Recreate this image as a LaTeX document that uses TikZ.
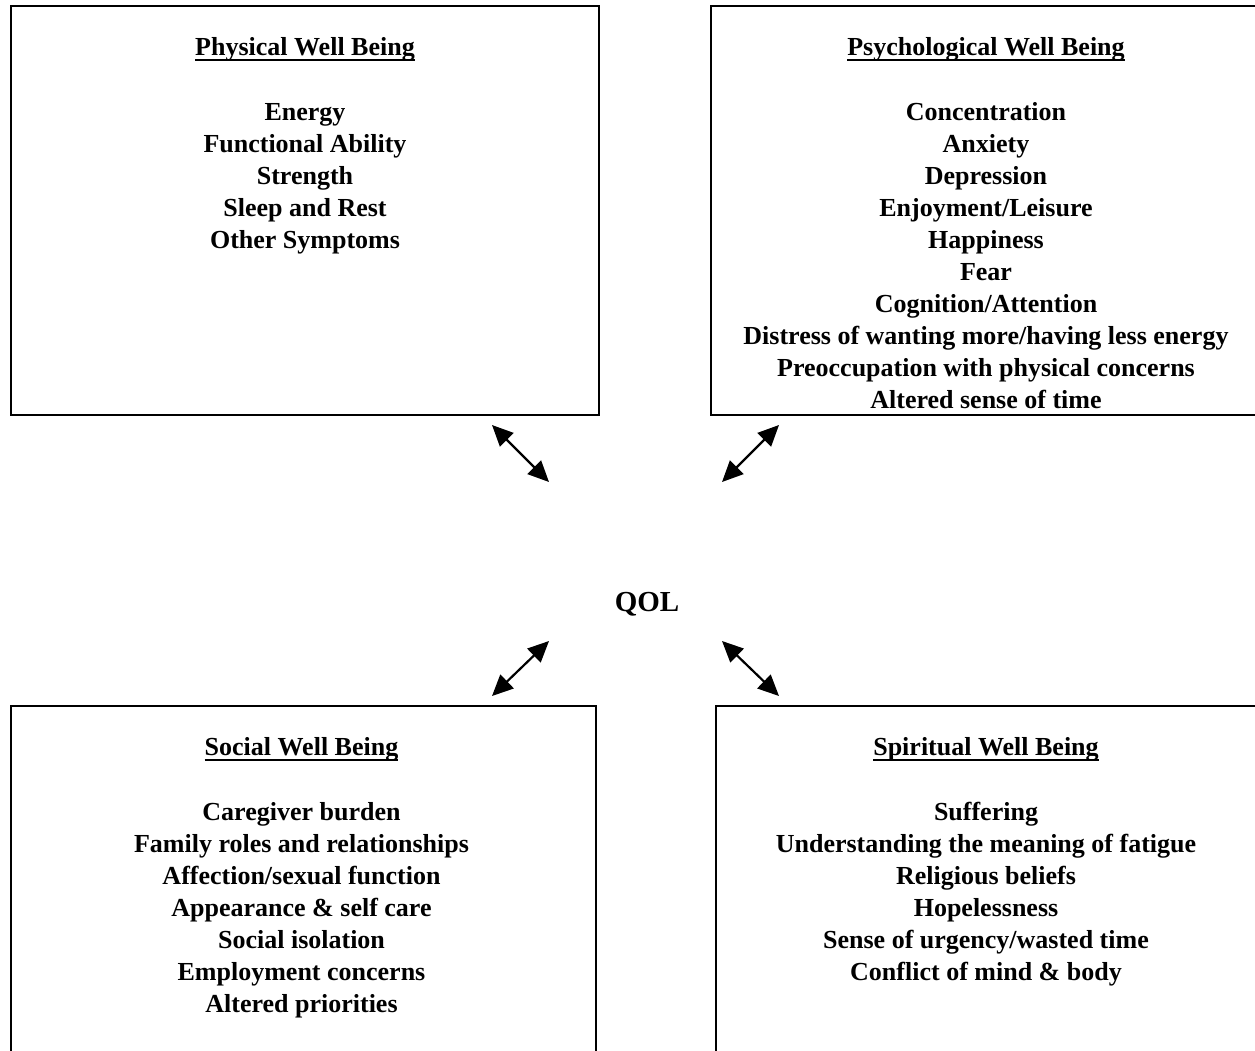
\documentclass[tikz,border=0pt]{standalone}
\usepackage{fontspec}
\setmainfont{Liberation Serif}
\usetikzlibrary{arrows.meta, positioning}

\newcommand{\boxhead}[1]{\setbox0\hbox{#1}\rlap{\rule[-6pt]{\wd0}{2pt}}\box0}

\tikzstyle{wellbox} = [
    rectangle, 
    draw=black, 
    line width=2pt,
    inner sep=0pt
]
\tikzstyle{itemlist} = [
    align=center, 
    inner sep=0pt,
    font=\fontsize{26}{32}\selectfont\bfseries
]
\tikzstyle{arrow} = [line width=2.2pt,<->,>={Triangle[length=21pt,width=19pt]}]

\begin{document}
\begin{tikzpicture}[x=1pt, y=-1pt]
\useasboundingbox (0,0) rectangle (1255,1050);
\clip (0,0) rectangle (1255,1050);

% Boxes
\node (phys) [wellbox, minimum width=588pt, minimum height=409pt] at (305,210.5) {};
\node (psych) [wellbox, minimum width=550pt, minimum height=409pt] at (986,210.5) {};
\node (social) [wellbox, minimum width=585pt, minimum height=404pt] at (303.5,908) {};
\node (spirit) [wellbox, minimum width=542pt, minimum height=404pt] at (987,908) {};

% Texts
\node (physlist) [itemlist, below=32pt of phys.north] {\boxhead{Physical Well Being}\\[33pt]
    Energy\\ Functional Ability\\ Strength\\ Sleep and Rest\\ Other Symptoms};
\node (psychlist) [itemlist, below=32pt of psych.north] {\boxhead{Psychological Well Being}\\[33pt]
    Concentration\\ Anxiety\\ Depression\\ Enjoyment/Leisure\\ Happiness\\ Fear\\
    Cognition/Attention\\ Distress of wanting more/having less energy\\
    Preoccupation with physical concerns\\ Altered sense of time};
\node (sociallist) [itemlist, below=32pt of social.north, xshift=-2pt] {\boxhead{Social Well Being}\\[33pt]
    Caregiver burden\\ Family roles and relationships\\ Affection/sexual function\\
    Appearance \& self care\\ Social isolation\\ Employment concerns\\ Altered priorities};
\node (spiritlist) [itemlist, below=32pt of spirit.north, xshift=-1pt] {\boxhead{Spiritual Well Being}\\[33pt]
    Suffering\\ Understanding the meaning of fatigue\\ Religious beliefs\\ Hopelessness\\
    Sense of urgency/wasted time\\ Conflict of mind \& body};

\node (qol) [anchor=base, font=\fontsize{29}{34}\selectfont\bfseries] at (647,611) {QOL};

% Arrow ends
\coordinate (physa) at (492,425);
\coordinate (physb) at (549,482);
\coordinate (psycha) at (779,425);
\coordinate (psychb) at (722,482);
\coordinate (sociala) at (492,696);
\coordinate (socialb) at (549,641);
\coordinate (spirita) at (779,696);
\coordinate (spiritb) at (722,641);

% Arrows
\draw [arrow] (physa) -- (physb);
\draw [arrow] (psycha) -- (psychb);
\draw [arrow] (sociala) -- (socialb);
\draw [arrow] (spirita) -- (spiritb);

\end{tikzpicture}
\end{document}
